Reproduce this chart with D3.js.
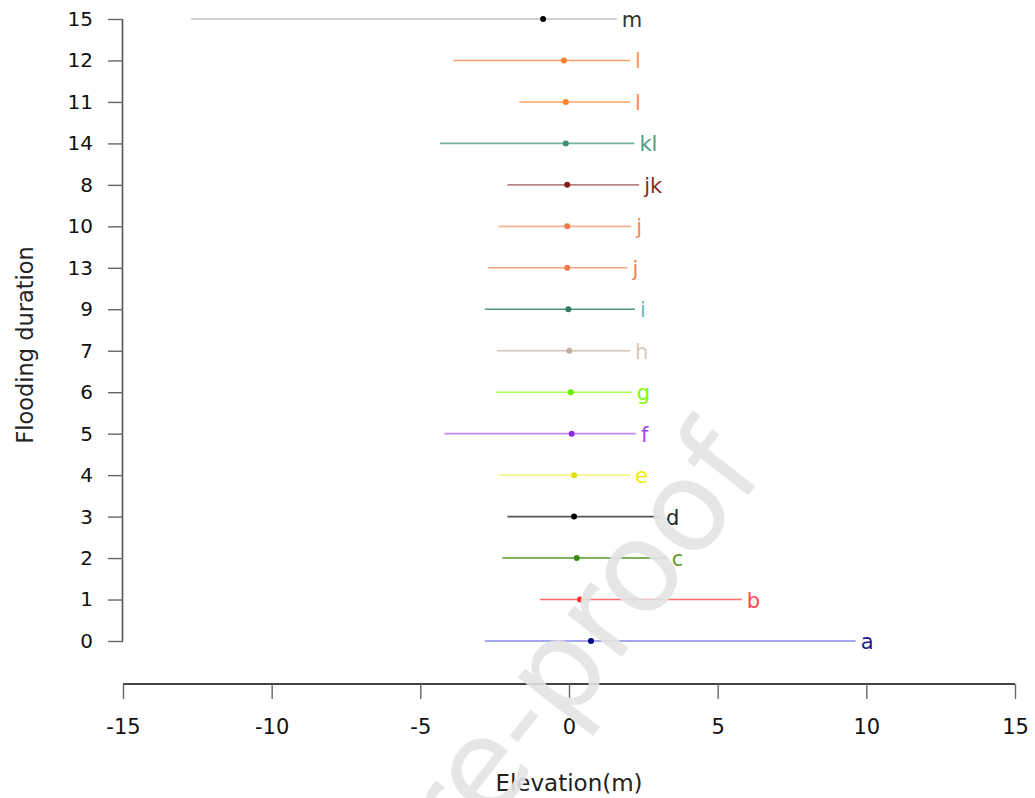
<!DOCTYPE html>
<html>
<head>
<meta charset="utf-8">
<script src="https://cdn.jsdelivr.net/npm/d3@7"></script>
<style>
  html, body { margin: 0; padding: 0; background: #fff; }
  svg { display: block; }
  text { font-family: "DejaVu Sans", "Liberation Sans", Arial, sans-serif; }
</style>
</head>
<body>
<svg id="chart" width="1035" height="798"></svg>
<script>
// ---- data (top to bottom) ----
const categories = ["15", "12", "11", "14", "8", "10", "13", "9", "7", "6", "5", "4", "3", "2", "1", "0"];
const lowerValues = [-12.71, -3.89, -1.67, -4.34, -2.07, -2.38, -2.73, -2.83, -2.43, -2.46, -4.19, -2.38, -2.07, -2.24, -0.98, -2.83];
const meanValues  = [-0.87, -0.17, -0.11, -0.11, -0.06, -0.06, -0.06, -0.02, 0.01, 0.06, 0.09, 0.17, 0.17, 0.26, 0.37, 0.74];
const upperValues = [1.61, 2.05, 2.05, 2.20, 2.36, 2.09, 1.97, 2.22, 2.05, 2.11, 2.25, 2.05, 3.09, 3.29, 5.81, 9.64];
const groupLabels = ["m", "l", "l", "kl", "jk", "j", "j", "i", "h", "g", "f", "e", "d", "c", "b", "a"];
const xTicks = [-15, -10, -5, 0, 5, 10, 15];

// ---- styles ----
const lineColors  = ["#c0c0c0", "#ffa366", "#ffa366", "#78b09c", "#b58585", "#f9b08c", "#f9a884", "#4f9580", "#d2c4b6", "#a6ff5c", "#c88cf5", "#f6f68a", "#555555", "#4f9a2a", "#ff6a6a", "#8a8ae6"];
const pointColors = ["#000000", "#ff7f24", "#ff7f24", "#3e8e70", "#8b1a1a", "#f07a48", "#f07a48", "#2f7c62", "#bfae9e", "#66ee00", "#8a2be2", "#e6e000", "#000000", "#3b8a14", "#ff3030", "#00008b"];
const labelColors = ["#333333", "#ff9050", "#ff8a50", "#4e9e86", "#8b2a2a", "#f08a58", "#f08050", "#66bcc4", "#d6c8ba", "#7cfc00", "#a045f0", "#eeee00", "#222222", "#5f9a2e", "#ff4848", "#1c1c8b"];

const svg = d3.select("#chart");

const x = d3.scaleLinear().domain([-15, 15]).range([123, 1015]);
const y = d3.scalePoint().domain(categories).range([19, 641]);

const rows = categories.map((c, i) => ({
  cat: c, lo: lowerValues[i], mean: meanValues[i], hi: upperValues[i],
  label: groupLabels[i], lc: lineColors[i], pc: pointColors[i], tc: labelColors[i]
}));

// error bars
svg.append("g").selectAll("line").data(rows).join("line")
  .attr("x1", d => x(d.lo)).attr("x2", d => x(d.hi))
  .attr("y1", d => y(d.cat)).attr("y2", d => y(d.cat))
  .attr("stroke", d => d.lc).attr("stroke-width", 1.6);

// points
svg.append("g").selectAll("circle").data(rows).join("circle")
  .attr("cx", d => x(d.mean)).attr("cy", d => y(d.cat))
  .attr("r", 3).attr("fill", d => d.pc);

// group labels
svg.append("g").selectAll("text").data(rows).join("text")
  .attr("x", d => x(d.hi) + 5).attr("y", d => y(d.cat))
  .attr("dy", "0.38em")
  .attr("font-size", 21)
  .attr("fill", d => d.tc)
  .text(d => d.label);

// y axis
const yAxis = d3.axisLeft(y).tickSize(15).tickPadding(15);
const gy = svg.append("g").attr("transform", "translate(123,0)").call(yAxis);
gy.select(".domain").attr("stroke", "#555").attr("stroke-width", 1.6).attr("d", "M-0.5,19V641");
gy.selectAll(".tick line").attr("stroke", "#666").attr("stroke-width", 1.4);
gy.selectAll(".tick text").attr("font-size", 20).attr("fill", "#111")
  .attr("font-family", "'DejaVu Sans', 'Liberation Sans', Arial, sans-serif");

// x axis
const xAxis = d3.axisBottom(x).tickValues(xTicks).tickSize(15).tickPadding(20).tickFormat(d => String(d));
const gx = svg.append("g").attr("transform", "translate(0,684)").call(xAxis);
gx.select(".domain").attr("stroke", "#444").attr("stroke-width", 1.8).attr("d", "M123,0H1015");
gx.selectAll(".tick line").attr("stroke", "#666").attr("stroke-width", 1.4);
gx.selectAll(".tick text").attr("font-size", 21).attr("fill", "#111")
  .attr("font-family", "'DejaVu Sans', 'Liberation Sans', Arial, sans-serif");

// axis titles
svg.append("text").attr("x", 569).attr("y", 791).attr("text-anchor", "middle")
  .attr("font-size", 23).attr("fill", "#222").text("Elevation(m)");
svg.append("text").attr("transform", "translate(33,345) rotate(-90)").attr("text-anchor", "middle")
  .attr("font-size", 22.5).attr("fill", "#222").text("Flooding duration");

// watermark
svg.append("text")
  .attr("transform", "translate(767,471) rotate(-52)")
  .attr("text-anchor", "end")
  .attr("font-size", 126)
  .attr("font-family", "'Liberation Sans', Arial, sans-serif")
  .attr("fill", "#e3e3e3")
  .attr("fill-opacity", 0.9)
  .text("Journal Pre-proof");
</script>
</body>
</html>
